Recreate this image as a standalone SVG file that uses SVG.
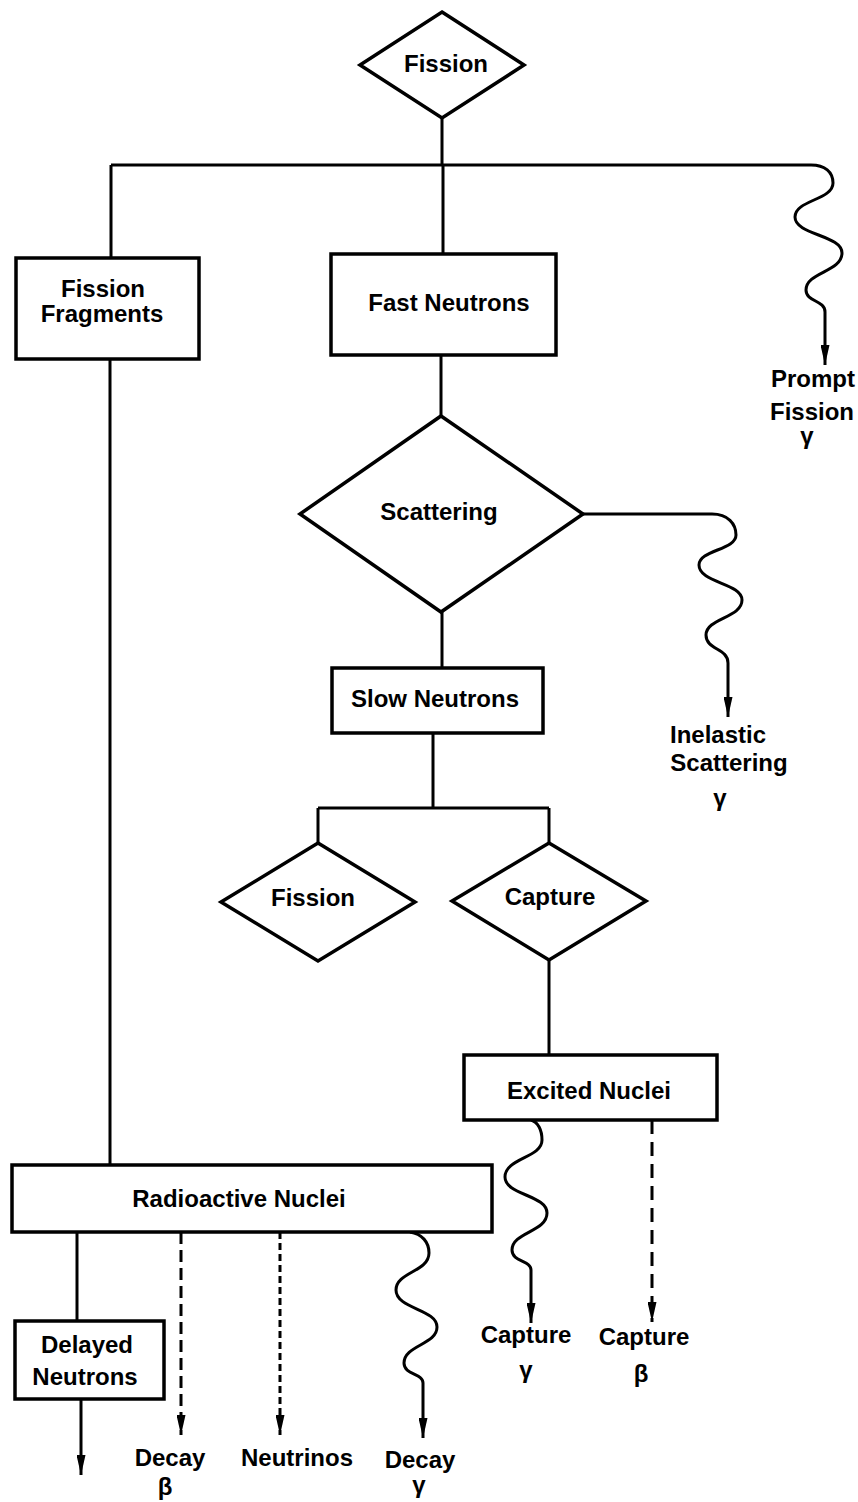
<svg xmlns="http://www.w3.org/2000/svg" width="858" height="1502" viewBox="0 0 858 1502">
<style>
.n{fill:#fff;stroke:#000;stroke-width:3.5}
.l{fill:none;stroke:#000;stroke-width:3}
.t{font-family:"Liberation Sans",Arial,sans-serif;font-size:24px;font-weight:bold;text-anchor:middle;fill:#000}
.d1{stroke-dasharray:12 6}
.d2{stroke-dasharray:7 4}
.d3{stroke-dasharray:14 8}
</style>
<defs>
<marker id="ah" markerUnits="userSpaceOnUse" markerWidth="20" markerHeight="9" viewBox="0 0 20 9" refX="20" refY="4.5" orient="auto">
<path d="M0,0 L20,4.5 L0,9 z" fill="#000"/>
</marker>
</defs>
<rect width="858" height="1502" fill="#fff"/>
<g id="connectors">
<path class="l" d="M442,118 V165 M111,165 H811 M111,165 V258 M443,165 V254"/>
<path class="l" d="M811,165 C825,165 833,172 833,183 C833,200 795,200 795,217 C795,235 842,235 842,253 C842,272 806,272 806,290 C806,302 825,300 825,312 L825,365" marker-end="url(#ah)"/>
<path class="l" d="M110,359 V1165"/>
<path class="l" d="M441,355 V416"/>
<path class="l" d="M583,514 H712 C728,514 736,524 736,535 C736,550 699,550 699,565 C699,583 742,583 742,600 C742,618 706,618 706,635 C706,650 728,648 728,663 L728,717" marker-end="url(#ah)"/>
<path class="l" d="M442,612 V668"/>
<path class="l" d="M433,733 V808 M318,808 H549 M318,808 V843 M549,808 V843"/>
<path class="l" d="M549,960 V1055"/>
<path class="l" d="M531,1120 C538,1122 542,1130 542,1140 C542,1158 505,1158 505,1177 C505,1195 547,1195 547,1213 C547,1232 512,1232 512,1250 C512,1262 531,1260 531,1270 L531,1323" marker-end="url(#ah)"/>
<path class="l d3" d="M652,1120 V1322" marker-end="url(#ah)"/>
<path class="l" d="M77,1232 V1321"/>
<path class="l" d="M81,1399 V1475" marker-end="url(#ah)"/>
<path class="l d1" d="M181,1232 V1435" marker-end="url(#ah)"/>
<path class="l d2" d="M280,1232 V1435" marker-end="url(#ah)"/>
<path class="l" d="M410,1232 C422,1234 429,1242 429,1253 C429,1272 396,1272 396,1290 C396,1309 437,1309 437,1327 C437,1345 404,1345 404,1363 C404,1375 423,1373 423,1383 L423,1438" marker-end="url(#ah)"/>
</g>
<g id="fission-top"><polygon class="n" points="442,12 524,65 442,118 360,65"/><text class="t" x="446" y="72">Fission</text></g>
<g id="fission-fragments"><rect class="n" x="16" y="258" width="183" height="101"/><text class="t" x="103" y="297">Fission</text><text class="t" x="102" y="322">Fragments</text></g>
<g id="fast-neutrons"><rect class="n" x="331" y="254" width="225" height="101"/><text class="t" x="449" y="311">Fast Neutrons</text></g>
<g id="prompt-fission-gamma"><text class="t" x="813" y="387">Prompt</text><text class="t" x="812" y="420">Fission</text><text class="t" x="807" y="444">γ</text></g>
<g id="scattering"><polygon class="n" points="441,416 583,514 441,612 300,514"/><text class="t" x="439" y="520">Scattering</text></g>
<g id="inelastic-scattering-gamma"><text class="t" x="718" y="743">Inelastic</text><text class="t" x="729" y="771">Scattering</text><text class="t" x="720" y="806">γ</text></g>
<g id="slow-neutrons"><rect class="n" x="332" y="668" width="211" height="65"/><text class="t" x="435" y="707">Slow Neutrons</text></g>
<g id="fission-slow"><polygon class="n" points="318,843 415,902 318,961 221,902"/><text class="t" x="313" y="906">Fission</text></g>
<g id="capture"><polygon class="n" points="549,843 646,901 549,960 452,901"/><text class="t" x="550" y="905">Capture</text></g>
<g id="excited-nuclei"><rect class="n" x="464" y="1055" width="253" height="65"/><text class="t" x="589" y="1099">Excited Nuclei</text></g>
<g id="radioactive-nuclei"><rect class="n" x="12" y="1165" width="480" height="67"/><text class="t" x="239" y="1207">Radioactive Nuclei</text></g>
<g id="delayed-neutrons"><rect class="n" x="15" y="1321" width="149" height="78"/><text class="t" x="87" y="1353">Delayed</text><text class="t" x="85" y="1385">Neutrons</text></g>
<g id="capture-gamma"><text class="t" x="526" y="1343">Capture</text><text class="t" x="526" y="1378">γ</text></g>
<g id="capture-beta"><text class="t" x="644" y="1345">Capture</text><text class="t" x="641" y="1382">β</text></g>
<g id="decay-beta"><text class="t" x="170" y="1466">Decay</text><text class="t" x="165" y="1495">β</text></g>
<g id="neutrinos"><text class="t" x="297" y="1466">Neutrinos</text></g>
<g id="decay-gamma"><text class="t" x="420" y="1468">Decay</text><text class="t" x="419" y="1493">γ</text></g>
</svg>
